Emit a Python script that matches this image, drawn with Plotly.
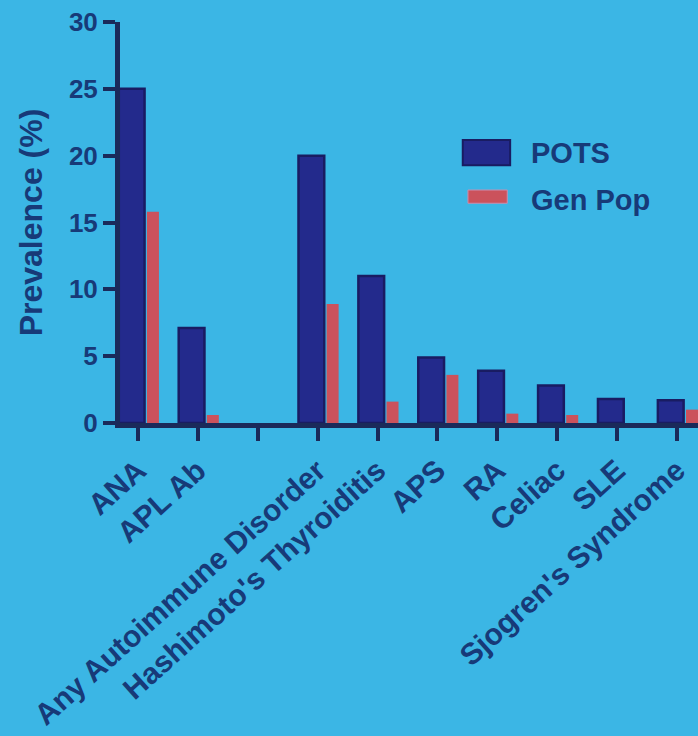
import plotly.graph_objects as go

categories = ["ANA", "APL Ab", "", "Any Autoimmune Disorder", "Hashimoto's Thyroiditis",
              "APS", "RA", "Celiac", "SLE", "Sjogren's Syndrome"]
pots = [25.0, 7.1, None, 20.0, 11.0, 4.9, 3.9, 2.8, 1.8, 1.7]
gen_pop = [15.8, 0.6, None, 8.9, 1.6, 3.6, 0.7, 0.6, 0.0, 1.0]
y_ticks = [0, 5, 10, 15, 20, 25, 30]

BG = "#3bb6e5"
NAVY = "#191c62"
POTS_FILL = "#232a8c"
RED = "#cb525c"
TXT = "#173a78"
AX = "#1a2a5a"
FONT = "Liberation Sans, Arial, sans-serif"

x = list(range(len(categories)))

fig = go.Figure()
fig.add_trace(go.Bar(
    x=x, y=pots, name="POTS",
    marker=dict(color=POTS_FILL, line=dict(color=NAVY, width=2.5)),
    offset=-0.32, width=0.43,
))
fig.add_trace(go.Bar(
    x=x, y=gen_pop, name="Gen Pop",
    marker=dict(color=RED, line=dict(width=0)),
    offset=0.15, width=0.2,
))

# custom legend (swatch shapes + text)
fig.add_shape(type="rect", xref="paper", yref="paper",
              x0=0.593, x1=0.675, y0=0.643, y1=0.706,
              fillcolor=POTS_FILL, line=dict(color=NAVY, width=2))
fig.add_shape(type="rect", xref="paper", yref="paper",
              x0=0.602, x1=0.670, y0=0.548, y1=0.581,
              fillcolor=RED, line=dict(color="#c98fb0", width=1))
fig.add_annotation(xref="paper", yref="paper", x=0.707, y=0.673, text="POTS",
                   showarrow=False, xanchor="left", yanchor="middle",
                   font=dict(family=FONT, size=29, color=TXT, weight="bold"))
fig.add_annotation(xref="paper", yref="paper", x=0.707, y=0.556, text="Gen Pop",
                   showarrow=False, xanchor="left", yanchor="middle",
                   font=dict(family=FONT, size=29, color=TXT, weight="bold"))

fig.update_layout(
    width=698, height=736,
    margin=dict(l=120, r=0, t=22, b=313),
    paper_bgcolor=BG, plot_bgcolor=BG,
    barmode="overlay",
    showlegend=False,
    font=dict(family=FONT, color=TXT),
)
fig.update_xaxes(
    range=[-0.30, 9.35],
    tickmode="array", tickvals=x, ticktext=categories,
    tickangle=-42,
    tickfont=dict(family=FONT, size=30, color=TXT, weight="bold"),
    showgrid=False, zeroline=False, automargin=False,
    showline=True, linecolor=AX, linewidth=5,
    ticks="outside", ticklen=13, tickwidth=4, tickcolor=AX,
)
fig.update_yaxes(
    range=[0, 30],
    tickmode="array", tickvals=y_ticks,
    tickfont=dict(family=FONT, size=26, color=TXT, weight="bold"),
    showgrid=False, zeroline=False, automargin=False,
    showline=True, linecolor=AX, linewidth=5,
    ticks="outside", ticklen=12, tickwidth=4, tickcolor=AX,
    title=dict(text="Prevalence (%)", standoff=18,
               font=dict(family=FONT, size=32, color=TXT, weight="bold")),
)

fig.write_html(
    "out.html",
    config={"displayModeBar": False},
    post_script="document.body.style.margin='0';document.body.style.background='%s';" % BG,
)
